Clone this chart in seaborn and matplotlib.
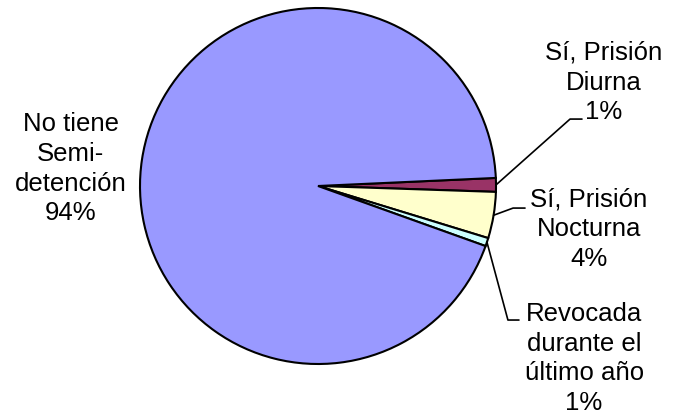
import matplotlib
matplotlib.use("Agg")
import matplotlib.pyplot as plt
import seaborn as sns
import numpy as np

# data (share of people, %), clockwise from just above 3 o'clock
categories = ["Sí, Prisión\nDiurna", "Sí, Prisión\nNocturna",
              "Revocada\ndurante el\núltimo año", "No tiene\nSemi-\ndetención"]
values = [1.25, 4.2, 0.75, 93.8]
colors = ["#993366", "#FFFFCC", "#CCFFFF", "#9999FF"]

sns.set_theme(style="white")
plt.rcParams["font.family"] = ["Liberation Sans", "DejaVu Sans"]

fig = plt.figure(figsize=(6.73, 4.18), dpi=100)
ax = fig.add_axes([140 / 673, 54 / 418, 356 / 673, 356 / 418])

wedges, _ = ax.pie(values, colors=colors, startangle=2.6, counterclock=False,
                   wedgeprops=dict(edgecolor="black", linewidth=1.5))
ax.set_xlim(-1, 1)
ax.set_ylim(-1, 1)

labels = [f"{c}\n{round(v)}%" for c, v in zip(categories, values)]

# label centres and leader elbows (data units, radius = 1)
text_pos = [(1.607, 0.581), (1.522, -0.244), (1.495, -0.969), (-1.388, 0.096)]
elbows = [((1.416, 0.376), (1.483, 0.376)),
          ((1.096, -0.124), (1.163, -0.124)),
          ((1.067, -0.753), (1.129, -0.753)),
          None]

for w, lab, pos, elb in zip(wedges, labels, text_pos, elbows):
    ax.text(pos[0], pos[1], lab, ha="center", va="center", fontsize=18.5,
            linespacing=1.3, color="black", clip_on=False)
    if elb is not None:
        ang = np.deg2rad((w.theta1 + w.theta2) / 2)
        x0, y0 = np.cos(ang), np.sin(ang)
        ax.plot([x0, elb[0][0], elb[1][0]], [y0, elb[0][1], elb[1][1]],
                color="black", linewidth=1.2, clip_on=False)

fig.savefig("out.png", dpi=100)
